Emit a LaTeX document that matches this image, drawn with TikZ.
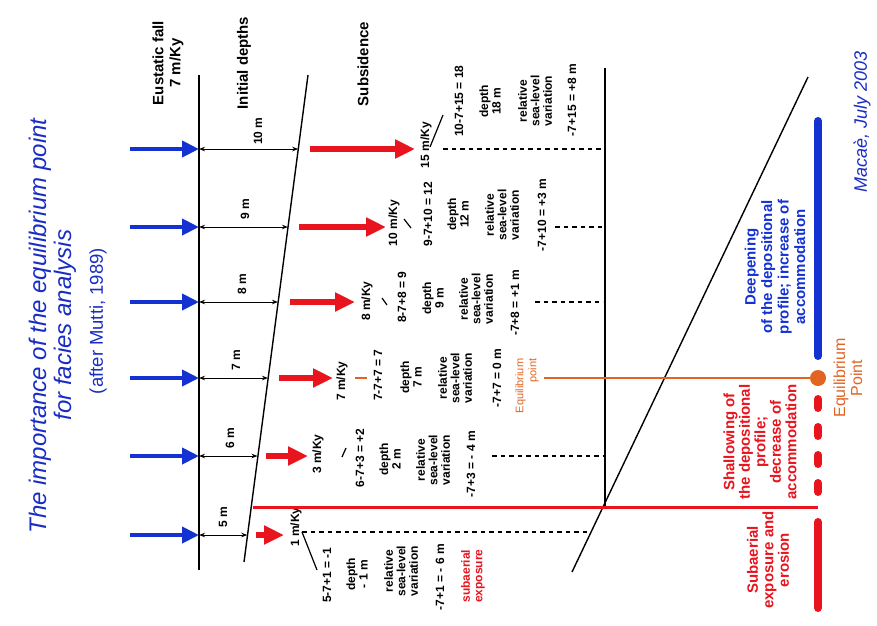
\documentclass[tikz,border=0pt]{standalone}
\usepackage{fontspec}
\setmainfont{Liberation Sans}
\usetikzlibrary{arrows.meta}
\definecolor{tblue}{RGB}{25,45,195}
\definecolor{ablue}{RGB}{20,50,210}
\definecolor{ared}{RGB}{232,20,30}
\definecolor{aorange}{RGB}{225,100,35}
\begin{document}
\begin{tikzpicture}[x=1pt,y=-1pt,
  lbl/.style={rotate=90, font=\bfseries\fontsize{12}{12.5}\selectfont, align=center, inner sep=0pt},
  hdr/.style={rotate=90, font=\bfseries\fontsize{15}{17}\selectfont, align=center, inner sep=0pt},
  side/.style={rotate=90, font=\bfseries\fontsize{15}{15.5}\selectfont, align=center, inner sep=0pt},
  ttl/.style={rotate=90, tblue, inner sep=0pt},
  bluearr/.style={ablue, line width=4pt, -{Triangle[length=17pt,width=16pt]}},
  redarr/.style={ared, line width=6pt, -{Triangle[length=20pt,width=18pt]}},
  deptharr/.style={black, line width=1pt, {Stealth[length=6pt,width=4.5pt]}-{Stealth[length=6pt,width=4.5pt]}},
  thinline/.style={black, line width=1.4pt},
  dashline/.style={black, line width=1.3pt, dash pattern=on 4.5pt off 4pt},
  tick/.style={black, line width=1.2pt},
  bar/.style={line width=8pt, line cap=round}
]
\useasboundingbox (0,0) rectangle (877,625);

% title
\node[ttl, font=\itshape\fontsize{24}{24}\selectfont] (t1) at (40,326) {The importance of the equilibrium point};
\node[ttl, font=\itshape\fontsize{24}{24}\selectfont] (t2) at (65,325) {for facies analysis};
\node[ttl, font=\fontsize{18.5}{18.5}\selectfont] (t3) at (98,321) {(after Mutti, 1989)};
\node[ttl, font=\itshape\fontsize{18}{18}\selectfont] (date) at (862,122) {Macaè, July 2003};

% headers
\node[hdr] (h1) at (168,63) {Eustatic fall\\7 m/Ky};
\node[hdr] (h2) at (244,63) {Initial depths};
\node[hdr] (h3) at (363,64) {Subsidence};

% main lines
\coordinate (eTop) at (199,75);
\coordinate (eBot) at (199,570);
\draw[thinline] (eTop) -- (eBot);
\coordinate (sTop) at (308,75);
\coordinate (sBot) at (244,562);
\draw[thinline] (sTop) -- (sBot);

% rows: blue arrows, depth arrows, red arrows
\foreach \i/\y/\sx/\lx/\lab/\rs/\re in {
  1/149/298.2/258/10 m/310/415,
  2/227/288/245/9 m/299/386,
  3/302/278/242/8 m/290/355,
  4/378/268/236/7 m/279/333,
  5/456/257.5/230/6 m/266/308,
  6/535/247.3/223/5 m/256/284}{
  \coordinate (b\i) at (130,\y);
  \coordinate (e\i) at (199,\y);
  \coordinate (s\i) at (\sx,\y);
  \coordinate (rs\i) at (\rs,\y);
  \coordinate (re\i) at (\re,\y);
  \draw[bluearr] (b\i) -- (e\i);
  \draw[deptharr] (e\i) -- (s\i);
  \node[lbl] (d\i) at (\lx,\y-18) {\lab};
  \draw[redarr] (rs\i) -- (re\i);
}

% right frame
\coordinate (vTop) at (605,68);
\coordinate (vBot) at (605,506);
\draw[thinline] (vTop) -- (vBot);
\coordinate (gTop) at (808,77);
\coordinate (gBot) at (572,572);
\draw[thinline] (gTop) -- (gBot);

% row 1
\node[lbl] (k1) at (426,145) {15 m/Ky};
\draw[tick] (430,147) -- (443,115);
\node[lbl] (c1) at (459,101) {10-7+15 = 18};
\node[lbl] (p1) at (490,101) {depth\\18 m};
\node[lbl] (v1) at (535,101) {relative\\sea-level\\variation};
\node[lbl] (m1) at (572,100) {-7+15 = +8 m};
\coordinate (q1a) at (443,149); \coordinate (q1b) at (603,149);
\draw[dashline] (q1a) -- (q1b);

% row 2
\node[lbl] (k2) at (394,223) {10 m/Ky};
\draw[tick] (404,219) -- (411,228);
\node[lbl] (c2) at (428,214) {9-7+10 = 12};
\node[lbl] (p2) at (458,214) {depth\\12 m};
\node[lbl] (v2) at (502,215) {relative\\sea-level\\variation};
\node[lbl] (m2) at (542,215) {-7+10 = +3 m};
\coordinate (q2a) at (555,227); \coordinate (q2b) at (603,227);
\draw[dashline] (q2a) -- (q2b);

% row 3
\node[lbl] (k3) at (367,301) {8 m/Ky};
\draw[tick] (382,298) -- (387,305);
\node[lbl] (c3) at (402,297) {8-7+8 = 9};
\node[lbl] (p3) at (433,298) {depth\\9 m};
\node[lbl] (v3) at (476,299) {relative\\sea-level\\variation};
\node[lbl] (m3) at (515,303) {-7+8 = +1 m};
\coordinate (q3a) at (535,302); \coordinate (q3b) at (603,302);
\draw[dashline] (q3a) -- (q3b);

% row 4
\node[lbl] (k4) at (342,381) {7 m/Ky};
\draw[aorange, line width=1.3pt] (355,378) -- (367,378);
\node[lbl] (c4) at (378,375) {7-7+7 = 7};
\node[lbl] (p4) at (411,377) {depth\\7 m};
\node[lbl] (v4) at (455,378) {relative\\sea-level\\variation};
\node[lbl] (m4) at (497,378) {-7+7 = 0 m};
\node[rotate=90, aorange, font=\fontsize{11}{13}\selectfont, align=right, inner sep=0pt] (eqs) at (527,386) {Equilibrium\\point};
\coordinate (o4) at (544,378);
\node[circle, fill=aorange, minimum size=16pt, inner sep=0pt] (eqdot) at (818,378) {};
\draw[aorange, line width=1.6pt] (o4) -- (eqdot);

% row 5
\node[lbl] (k5) at (318,454) {3 m/Ky};
\draw[tick] (342,457) -- (346,448);
\node[lbl] (c5) at (360,458) {6-7+3 = +2};
\node[lbl] (p5) at (390,459) {depth\\2 m};
\node[lbl] (v5) at (433,460) {relative\\sea-level\\variation};
\node[lbl] (m5) at (471,464) {-7+3 = - 4 m};
\coordinate (q5a) at (492,456); \coordinate (q5b) at (603,456);
\draw[dashline] (q5a) -- (q5b);

% row 6
\node[lbl] (k6) at (296,527) {1 m/Ky};
\draw[tick] (302,532) -- (317,570);
\node[lbl] (c6) at (327,575) {5-7+1 = -1};
\node[lbl] (p6) at (357,574) {depth\\- 1 m};
\node[lbl] (v6) at (401,571) {relative\\sea-level\\variation};
\node[lbl] (m6) at (440,577) {-7+1 = - 6 m};
\node[lbl, ared] (sx6) at (473,576) {subaerial\\exposure};
\coordinate (q6a) at (302,532); \coordinate (q6b) at (590,532);
\draw[dashline] (q6a) -- (q6b);

% red horizontal
\coordinate (rhA) at (253,507); \coordinate (rhB) at (818,507);
\draw[ared, line width=3pt] (rhA) -- (rhB);

% right bars
\draw[bar, ablue] (818,121) -- (818,356);
\draw[bar, ared, dash pattern=on 9pt off 19pt] (818,399) -- (818,495);
\draw[bar, ared] (818,522) -- (818,608);

% right texts
\node[side, ablue, font=\bfseries\fontsize{15}{16.5}\selectfont] (deep) at (775,267) {Deepening\\of the depositional\\profile; increase of\\accommodation};
\node[side, ared] (shal) at (760,442) {Shallowing of\\the depositional\\profile;\\decrease of\\accommodation};
\node[side, ared] (suba) at (768,560) {Subaerial\\exposure and\\erosion};
\node[rotate=90, aorange, font=\fontsize{16}{17}\selectfont, align=center, inner sep=0pt] (eqp) at (848,378) {Equilibrium\\Point};
\end{tikzpicture}
\end{document}
